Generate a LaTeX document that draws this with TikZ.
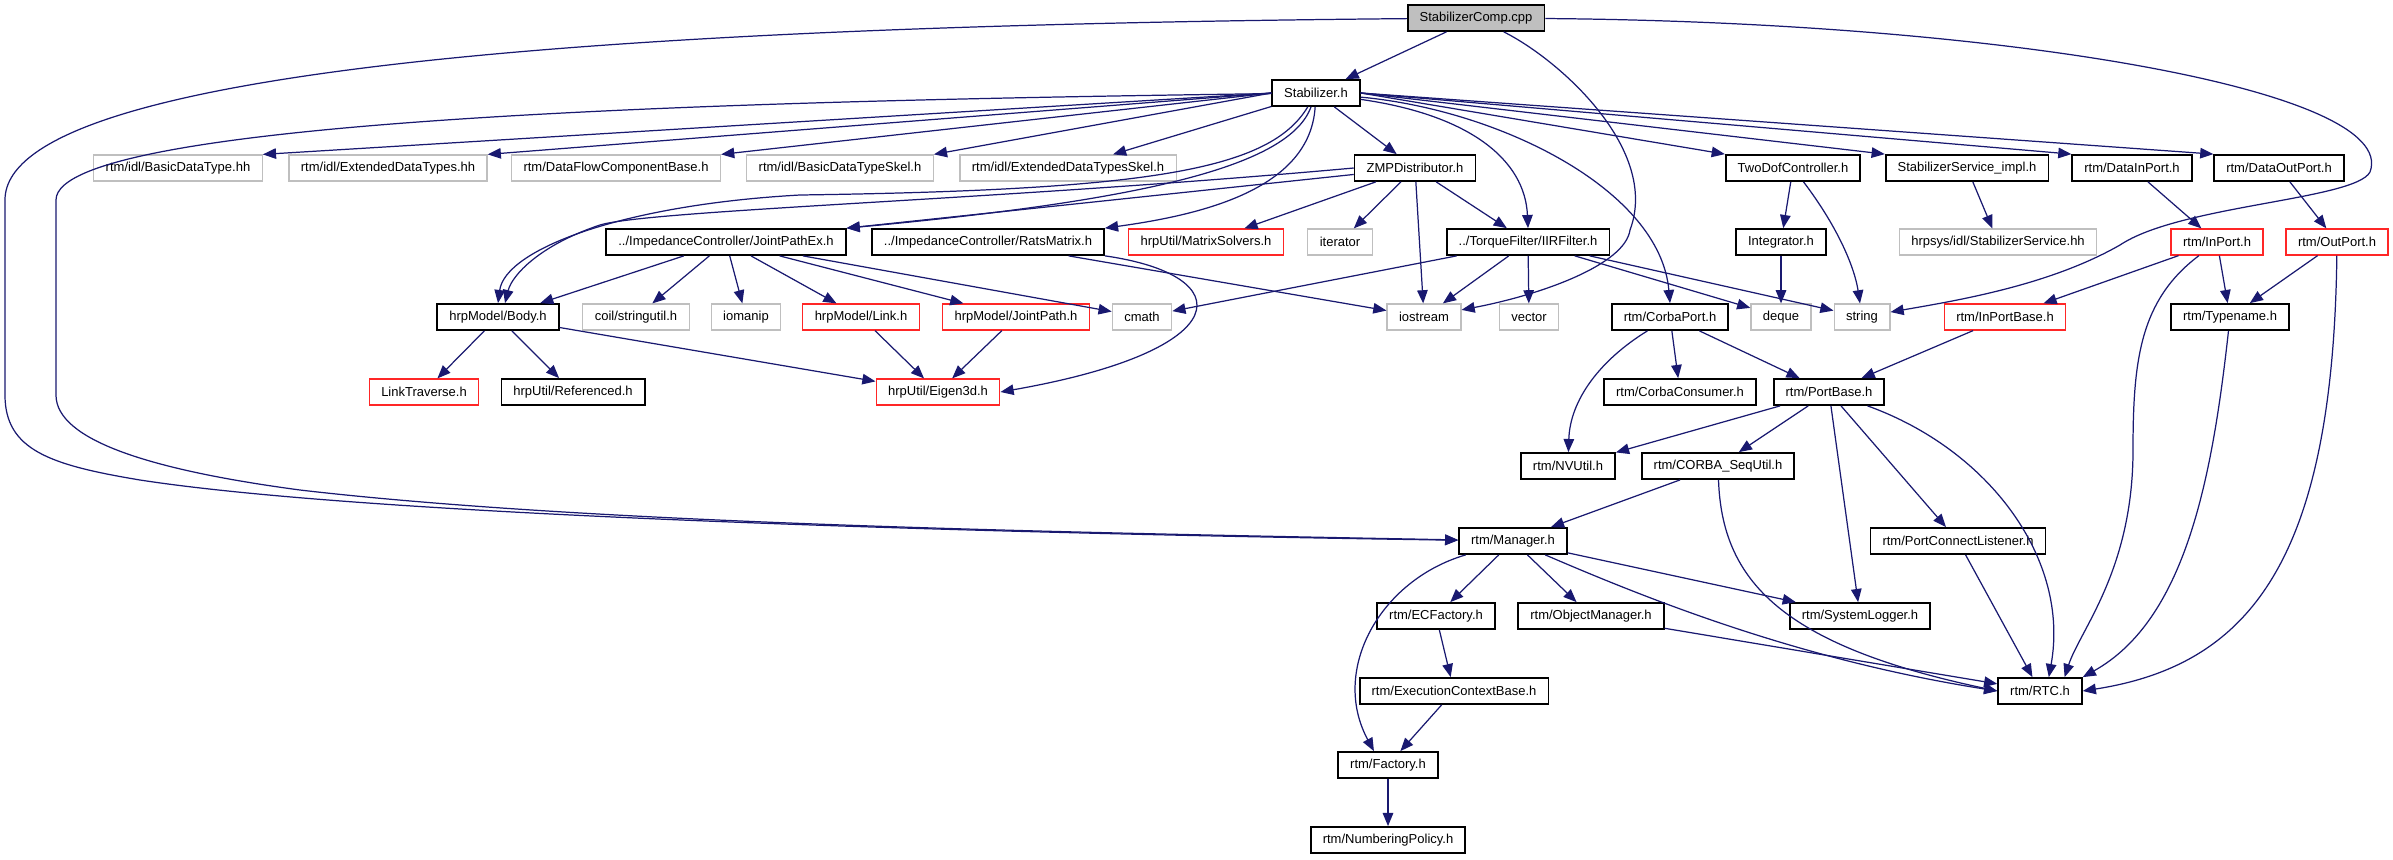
\documentclass[tikz,border=0pt]{standalone}
\usepackage{fontspec}
\setmainfont{Liberation Sans}
\usetikzlibrary{arrows.meta}
\definecolor{edgeblue}{HTML}{191970}
\definecolor{nodegray}{HTML}{BFBFBF}
\colorlet{nodered}{red!85!white}

\begin{document}
\begin{tikzpicture}[x=0.02cm,y=-0.02cm]
\useasboundingbox (0,0) rectangle (2393,859);
\tikzset{FileStyle/.style ={shape=rectangle, draw=black, line width=1pt, fill=white,
  inner xsep=0.24cm, inner ysep=0pt, minimum height=0.52cm, font=\fontsize{7.4}{9}\selectfont}}
\tikzset{RootStyle/.style ={FileStyle, fill=nodegray}}
\tikzset{GrayStyle/.style ={FileStyle, draw=nodegray, line width=0.7pt}}
\tikzset{RedStyle/.style ={FileStyle, draw=nodered, line width=0.7pt}}
\tikzset{EdgeStyle/.style ={draw=edgeblue, line width=0.7pt, -{Triangle[length=7.5pt,width=6pt]}}}

\node[RootStyle] (comp) at (1476,18) {StabilizerComp.cpp};
\node[FileStyle] (stab) at (1316,93) {Stabilizer.h};

\node[GrayStyle] (bdt) at (178,168) {rtm/idl/BasicDataType.hh};
\node[GrayStyle] (edt) at (388,168) {rtm/idl/ExtendedDataTypes.hh};
\node[GrayStyle] (dfcb) at (616,168) {rtm/DataFlowComponentBase.h};
\node[GrayStyle] (bdts) at (840,168) {rtm/idl/BasicDataTypeSkel.h};
\node[GrayStyle] (edts) at (1068,168) {rtm/idl/ExtendedDataTypesSkel.h};
\node[FileStyle] (zmp) at (1415,168) {ZMPDistributor.h};
\node[FileStyle] (twodof) at (1793,168) {TwoDofController.h};
\node[FileStyle] (ssimpl) at (1967,168) {StabilizerService\_impl.h};
\node[FileStyle] (dinport) at (2132,168) {rtm/DataInPort.h};
\node[FileStyle] (doutport) at (2279,168) {rtm/DataOutPort.h};

\node[FileStyle] (jpe) at (726,242) {../ImpedanceController/JointPathEx.h};
\node[FileStyle] (rats) at (988,242) {../ImpedanceController/RatsMatrix.h};
\node[RedStyle] (msolv) at (1206,242) {hrpUtil/MatrixSolvers.h};
\node[GrayStyle] (iter) at (1340,242) {iterator};
\node[FileStyle] (iir) at (1528,242) {../TorqueFilter/IIRFilter.h};
\node[FileStyle] (integ) at (1781,242) {Integrator.h};
\node[GrayStyle] (sshh) at (1998,242) {hrpsys/idl/StabilizerService.hh};
\node[RedStyle] (inport) at (2217,242) {rtm/InPort.h};
\node[RedStyle] (outport) at (2337,242) {rtm/OutPort.h};

\node[FileStyle] (body) at (498,317) {hrpModel/Body.h};
\node[GrayStyle] (strutil) at (636,317) {coil/stringutil.h};
\node[GrayStyle] (iomanip) at (746,317) {iomanip};
\node[RedStyle] (link) at (861,317) {hrpModel/Link.h};
\node[RedStyle] (jpath) at (1016,317) {hrpModel/JointPath.h};
\node[GrayStyle] (cmath) at (1142,317) {cmath};
\node[GrayStyle] (iostream) at (1424,317) {iostream};
\node[GrayStyle] (vector) at (1529,317) {vector};
\node[FileStyle] (corba) at (1670,317) {rtm/CorbaPort.h};
\node[GrayStyle] (deque) at (1781,317) {deque};
\node[GrayStyle] (string) at (1862,317) {string};
\node[RedStyle] (inpbase) at (2005,317) {rtm/InPortBase.h};
\node[FileStyle] (typename) at (2230,317) {rtm/Typename.h};

\node[RedStyle] (ltrav) at (424,392) {LinkTraverse.h};
\node[FileStyle] (refd) at (573,392) {hrpUtil/Referenced.h};
\node[RedStyle] (eigen) at (938,392) {hrpUtil/Eigen3d.h};
\node[FileStyle] (cconsumer) at (1680,392) {rtm/CorbaConsumer.h};
\node[FileStyle] (pbase) at (1829,392) {rtm/PortBase.h};

\node[FileStyle] (nvutil) at (1568,466) {rtm/NVUtil.h};
\node[FileStyle] (cseq) at (1718,466) {rtm/CORBA\_SeqUtil.h};
\node[FileStyle] (manager) at (1513,541) {rtm/Manager.h};
\node[FileStyle] (pcl) at (1958,541) {rtm/PortConnectListener.h};
\node[FileStyle] (ecfac) at (1436,616) {rtm/ECFactory.h};
\node[FileStyle] (objmgr) at (1591,616) {rtm/ObjectManager.h};
\node[FileStyle] (syslog) at (1860,616) {rtm/SystemLogger.h};
\node[FileStyle] (ecbase) at (1454,691) {rtm/ExecutionContextBase.h};
\node[FileStyle] (rtc) at (2040,691) {rtm/RTC.h};
\node[FileStyle] (factory) at (1388,765) {rtm/Factory.h};
\node[FileStyle] (numpol) at (1388,840) {rtm/NumberingPolicy.h};

\draw[EdgeStyle] (comp) -- (stab);
\draw[EdgeStyle] (comp) .. controls (1560,60) and (1660,150) .. (1630,230) .. controls (1625,265) and (1540,295) .. (iostream);
\draw[EdgeStyle] (comp) .. controls (2000,22) and (2400,90) .. (2370,172) .. controls (2355,200) and (2180,205) .. (2120,245) .. controls (2050,285) and (1960,300) .. (string);
\draw[EdgeStyle] (comp) .. controls (700,25) and (5,60) .. (5,200) -- (5,395) .. controls (5,450) and (50,465) .. (140,480) .. controls (400,520) and (1100,535) .. (manager);

\draw[EdgeStyle] (stab) .. controls (800,100) and (56,115) .. (56,200) -- (56,395) .. controls (56,440) and (150,470) .. (300,490) .. controls (600,525) and (1100,533) .. (manager);
\draw[EdgeStyle] (stab.west) -- (bdt.north east);
\draw[EdgeStyle] (stab.west) -- (edt.north east);
\draw[EdgeStyle] (stab.west) -- (dfcb.north east);
\draw[EdgeStyle] (stab.west) -- (bdts.north east);
\draw[EdgeStyle] (stab) -- (edts);
\draw[EdgeStyle] (stab) -- (zmp);
\draw[EdgeStyle] (stab.east) -- (twodof.north west);
\draw[EdgeStyle] (stab.east) -- (ssimpl.north west);
\draw[EdgeStyle] (stab.east) -- (dinport.north west);
\draw[EdgeStyle] (stab.east) -- (doutport.north west);
\draw[EdgeStyle] (stab) .. controls (1290,165) and (1150,200) .. (jpe.north east);
\draw[EdgeStyle] (stab) .. controls (1270,170) and (1150,190) .. (800,195) .. controls (620,205) and (505,250) .. (body.north);
\draw[EdgeStyle] (stab) .. controls (1310,190) and (1200,215) .. (rats.north east);
\draw[EdgeStyle] (stab) .. controls (1470,115) and (1525,160) .. (iir.north);
\draw[EdgeStyle] (stab) .. controls (1500,110) and (1660,190) .. (corba.north);

\draw[EdgeStyle] (zmp) -- (jpe.north east);
\draw[EdgeStyle] (zmp.west) .. controls (1000,200) and (650,210) .. (600,225) .. controls (540,245) and (512,275) .. ([xshift=4pt]body.north);
\draw[EdgeStyle] (zmp) -- (msolv);
\draw[EdgeStyle] (zmp) -- (iter);
\draw[EdgeStyle] (zmp) -- (iostream);
\draw[EdgeStyle] (zmp) -- (iir);

\draw[EdgeStyle] (jpe) -- (body);
\draw[EdgeStyle] (jpe) -- (strutil);
\draw[EdgeStyle] (jpe) -- (iomanip);
\draw[EdgeStyle] (jpe) -- (link);
\draw[EdgeStyle] (jpe) -- (jpath);
\draw[EdgeStyle] (jpe) -- (cmath);
\draw[EdgeStyle] (rats) -- (iostream);
\draw[EdgeStyle] (rats.south east) .. controls (1240,275) and (1240,350) .. (eigen.east);
\draw[EdgeStyle] (iir) -- (cmath);
\draw[EdgeStyle] (iir) -- (iostream);
\draw[EdgeStyle] (iir) -- (vector);
\draw[EdgeStyle] (iir) -- (deque);
\draw[EdgeStyle] (iir) -- (string);

\draw[EdgeStyle] (body) -- (ltrav);
\draw[EdgeStyle] (body) -- (refd);
\draw[EdgeStyle] (body) -- (eigen);
\draw[EdgeStyle] (link) -- (eigen);
\draw[EdgeStyle] (jpath) -- (eigen);

\draw[EdgeStyle] (twodof) -- (integ);
\draw[EdgeStyle] (twodof) .. controls (1840,230) and (1855,270) .. (string);
\draw[EdgeStyle] (integ) -- (deque);
\draw[EdgeStyle] (ssimpl) -- (sshh);
\draw[EdgeStyle] (dinport) -- (inport);
\draw[EdgeStyle] (doutport) -- (outport);
\draw[EdgeStyle] (inport) -- (inpbase);
\draw[EdgeStyle] (inport) -- (typename);
\draw[EdgeStyle] (inport) .. controls (2140,300) and (2133,360) .. (2133,450) .. controls (2133,570) and (2080,630) .. ([xshift=14pt]rtc.north);
\draw[EdgeStyle] (outport) -- (typename);
\draw[EdgeStyle] (outport) .. controls (2333,560) and (2250,665) .. (rtc.east);
\draw[EdgeStyle] (typename) .. controls (2212,480) and (2185,620) .. (rtc.north east);
\draw[EdgeStyle] (inpbase) -- (pbase);

\draw[EdgeStyle] (corba) .. controls (1600,360) and (1570,400) .. (nvutil);
\draw[EdgeStyle] (corba) -- (cconsumer);
\draw[EdgeStyle] (corba) -- (pbase);
\draw[EdgeStyle] (pbase) -- (nvutil);
\draw[EdgeStyle] (pbase) -- (cseq);
\draw[EdgeStyle] (pbase) -- (syslog);
\draw[EdgeStyle] (pbase) -- (pcl);
\draw[EdgeStyle] (pbase) .. controls (1990,450) and (2070,560) .. ([xshift=5pt]rtc.north);
\draw[EdgeStyle] (cseq) -- (manager);
\draw[EdgeStyle] (cseq) .. controls (1722,580) and (1780,645) .. (rtc.west);
\draw[EdgeStyle] (pcl) -- (rtc);

\draw[EdgeStyle] (manager) .. controls (1380,580) and (1330,670) .. ([xshift=-8pt]factory.north);
\draw[EdgeStyle] (manager) -- (ecfac);
\draw[EdgeStyle] (manager) -- (objmgr);
\draw[EdgeStyle] (manager) -- (syslog);
\draw[EdgeStyle] (manager) .. controls (1650,600) and (1800,660) .. (rtc.west);
\draw[EdgeStyle] (objmgr) -- (rtc);
\draw[EdgeStyle] (ecfac) -- (ecbase);
\draw[EdgeStyle] (ecbase) -- (factory);
\draw[EdgeStyle] (factory) -- (numpol);
\end{tikzpicture}
\end{document}
